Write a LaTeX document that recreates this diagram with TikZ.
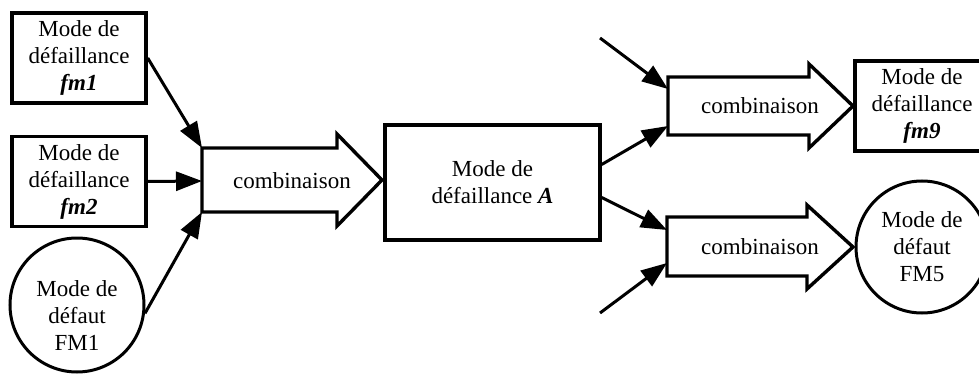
\documentclass[tikz,border=0pt]{standalone}
\usepackage{fontspec}
\setmainfont{Liberation Serif}
\usetikzlibrary{arrows.meta}
\newcommand\diagfont{\fontsize{23}{27}\selectfont}
\begin{document}
\begin{tikzpicture}[x=1pt,y=-1pt]
\tikzset{
  box/.style={draw, line width=3.4pt, minimum width=134pt, minimum height=90pt, inner sep=0pt, align=center, font=\diagfont},
  circ/.style={draw, circle, line width=3pt, minimum size=134pt, inner sep=0pt},
  lbl/.style={inner sep=0pt, align=center, font=\diagfont},
  fat/.style={draw, line width=3.4pt, line join=miter},
  link/.style={line width=3pt, -{Triangle[length=26pt,width=19pt]}}
}
\useasboundingbox (0,0) rectangle (979,374);
% left sources
\node[box] (fm1) at (79,58) {Mode de\\défaillance\\\textbf{\textit{fm1}}};
\node[box] (fm2) at (79,181.5) {Mode de\\défaillance\\\textbf{\textit{fm2}}};
\node[circ] (FM1) at (77,305) {};
\node[lbl] (FM1t) at (77,316) {Mode de\\défaut\\FM1};
% first fat arrow
\coordinate (c1nw) at (202,148);
\coordinate (c1w) at (202,181);
\coordinate (c1sw) at (202,212);
\coordinate (c1tip) at (382,180);
\draw[fat] (c1nw) -- (337,148) -- (337,134) -- (c1tip) -- (337,226) -- (337,212) -- (c1sw) -- cycle;
\node[lbl] (c1) at (292,181) {combinaison};
% middle box
\node[draw, line width=3.4pt, minimum width=215pt, minimum height=115pt, inner sep=0pt, align=center, font=\diagfont] (A) at (492.5,182.5) {Mode de\\défaillance \textbf{\textit{A}}};
% upper right fat arrow
\coordinate (c2a) at (668,89);
\coordinate (c2b) at (668,126);
\coordinate (c2tip) at (853,106);
\draw[fat] (668,77) -- (809,77) -- (809,64) -- (c2tip) -- (809,148) -- (809,135) -- (668,135) -- cycle;
\node[lbl] (c2) at (760,106) {combinaison};
% lower right fat arrow
\coordinate (c3a) at (667,230);
\coordinate (c3b) at (667,263);
\coordinate (c3tip) at (853,247);
\draw[fat] (667,217) -- (807,217) -- (807,205) -- (c3tip) -- (807,289) -- (807,276) -- (667,276) -- cycle;
\node[lbl] (c3) at (760,247) {combinaison};
% right targets
\node[box] (fm9) at (922,106) {Mode de\\défaillance\\\textbf{\textit{fm9}}};
\node[circ, minimum size=132pt, align=center, font=\diagfont] (FM5) at (922,247) {Mode de\\défaut\\FM5};
% connectors
\coordinate (in1) at (600,38);
\coordinate (in2) at (600,313);
\draw[link] (fm1.east) -- (c1nw);
\draw[link] (fm2.east) -- (c1w);
\draw[link] (FM1.-7) -- (c1sw);
\draw[link] (in1) -- (c2a);
\draw[link] ([yshift=18pt]A.east) -- (c2b);
\draw[link] ([yshift=-15pt]A.east) -- (c3a);
\draw[link] (in2) -- (c3b);
\end{tikzpicture}
\end{document}
